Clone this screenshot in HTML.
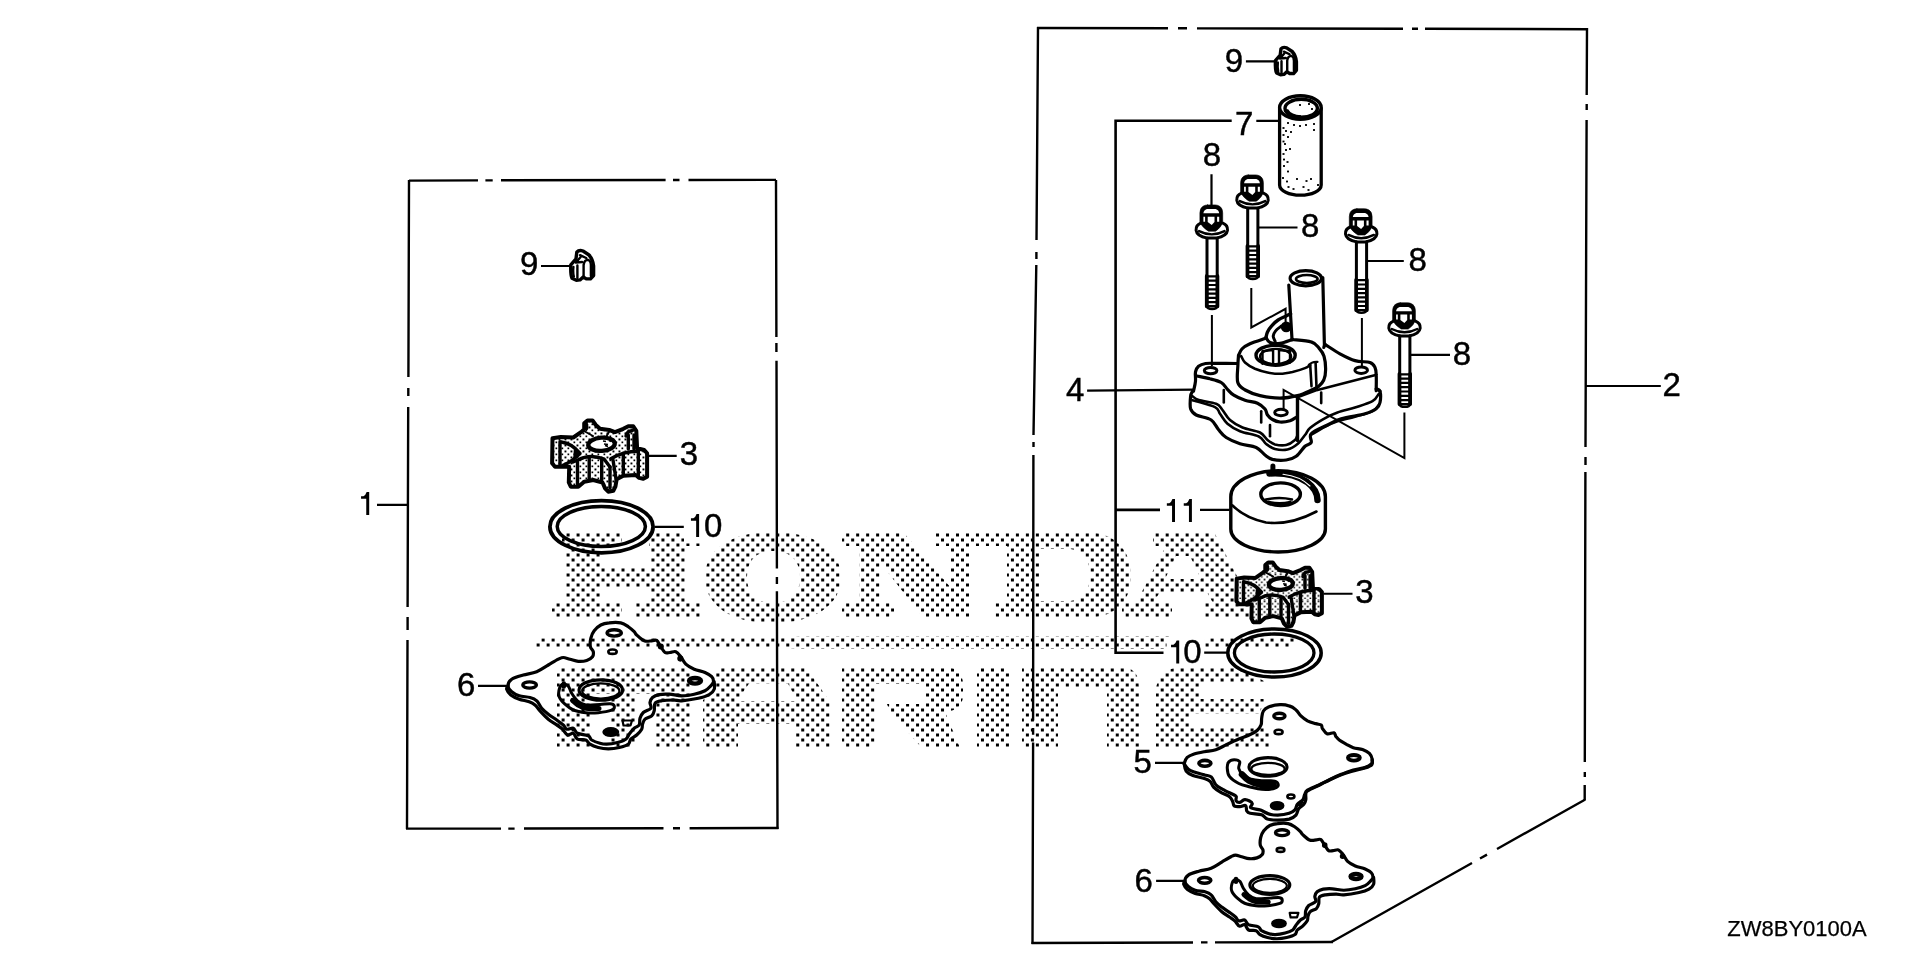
<!DOCTYPE html>
<html><head><meta charset="utf-8"><title>Water Pump Parts Diagram</title>
<style>
html,body{margin:0;padding:0;background:#fff;}
body{width:1920px;height:960px;overflow:hidden;font-family:"Liberation Sans",sans-serif;}
svg{display:block;filter:grayscale(1);}
svg text{font-family:"Liberation Sans",sans-serif;fill:#000;stroke:#000;stroke-width:0.45px;}
.l{stroke:#000;stroke-width:2.4;fill:none;stroke-linecap:butt;}
.t{stroke:#000;stroke-width:2;fill:none;}
.p{stroke:#000;stroke-width:2.6;fill:none;stroke-linejoin:round;stroke-linecap:round;}
.pw{stroke:#000;stroke-width:2.6;fill:#fff;stroke-linejoin:round;stroke-linecap:round;}
.n{font-size:30px;}
</style></head><body>
<svg width="1920" height="960" viewBox="0 0 1920 960">
<rect width="1920" height="960" fill="#fff"/>
<!-- 00_watermark.svg -->
<defs>
<pattern id="dots" width="9.985" height="10" patternUnits="userSpaceOnUse" patternTransform="translate(561.6,668.5)">
<rect x="0" y="0" width="3" height="3" fill="#000"/>
<rect x="4.99" y="5" width="3" height="3" fill="#000"/>
</pattern>
</defs>
<g fill="url(#dots)" stroke="none" fill-rule="evenodd">
<!-- H -->
<path d="M562 532H622V546H601V568H651V546H649V532H700V546H686V603H700V618H636V603H651V588H601V603H622V618H552V603H566V546H562Z"/>
<!-- O -->
<path d="M772 532C815 532 841 550 841 577C841 605 815 623 772 623C730 623 705 605 705 577C705 550 730 532 772 532ZM773 551C756 551 747 561 747 577C747 594 756 603 773 603C791 603 800 594 800 577C800 561 791 551 773 551Z"/>
<!-- N -->
<path d="M842 532H903L951 588V546H936V532H985V546H970V618H923L880 562V603H894V618H842V603H859V546H842Z"/>
<!-- D -->
<path d="M985 532H1085C1115 532 1131 550 1131 576C1131 602 1115 618 1085 618H994V603H1007V546H985ZM1040 549V601H1068C1082 601 1090 592 1090 575C1090 558 1082 549 1068 549Z"/>
<!-- A -->
<path d="M1153 532H1214L1251 603H1263V618H1205V603H1213L1207 592H1160L1153 603H1172V618H1122V603H1136L1166 546H1153ZM1176 556L1165 579H1201L1190 556Z"/>
<!-- swoosh -->
<path d="M536 638.3L780 638.3L800 636.5L1170 636.3L1180 638.3H1295V647.7H1180L1170 648.9L800 648.8L780 647.7L536 647.7Z"/>
<!-- M -->
<path d="M565 667H682Q691 667 691 676V748H655V694H636V748H611V694H591V748H557V675Q557 667 565 667Z"/>
<!-- A -->
<path d="M722 667H806L830 702V748H796V724H738V748H703V700L716 690V673Q716 667 722 667ZM749 683.4L737 701H797L788 683.4Z"/>
<!-- R -->
<path d="M842 667H945Q963 667 963 685V695Q963 710 945 712L960 748H922L890 712L887 704H925V684H875V748H842Z"/>
<!-- I -->
<path d="M977 667H1009V748H977Z"/>
<!-- N -->
<path d="M1022 667H1120Q1139 667 1139 687V748H1107V688H1058V748H1022Z"/>
<!-- E -->
<path d="M1185 667H1236L1268 683H1199V699H1266L1259 713.6H1190V728H1270V748H1156V692Q1156 667 1185 667Z"/>
</g>

<!-- 05_defs.svg -->
<defs>
<pattern id="stip" width="6" height="6" patternUnits="userSpaceOnUse">
<rect x="0.5" y="0.5" width="1.9" height="1.9" fill="#000"/>
<rect x="3.5" y="3.5" width="1.7" height="1.7" fill="#000"/>
</pattern>
<pattern id="stip2" width="9" height="9" patternUnits="userSpaceOnUse">
<rect x="1" y="1" width="1.3" height="1.3" fill="#000"/>
<rect x="5.5" y="4" width="1.3" height="1.3" fill="#000"/>
<rect x="2.5" y="7" width="1.2" height="1.2" fill="#000"/>
</pattern>
<!-- clip (9) : drawn at left-box position -->
<g id="clip">
<path vector-effect="non-scaling-stroke" d="M570.8 264.8L576 258.8L576.8 252.2Q579 249.6 583 251L589 255Q593 259.5 593.6 266V275.5L590.5 278.9H586.3L583.2 277L580 279.9L576.3 280.2L572 278.2Q570.4 275 570.8 264.8Z" fill="#fff" stroke="#000" stroke-width="3.4" stroke-linejoin="round"/>
<path vector-effect="non-scaling-stroke" d="M580 255.2L586.2 258M580.2 257.5L575.8 262.6L582 262M583.6 276V265Q584.2 260 588 259.8Q590.8 260.5 590.9 265V276M577.4 265.5V278M573.4 267Q572.8 272 573.8 276.5" fill="none" stroke="#000" stroke-width="2.4" stroke-linejoin="round" stroke-linecap="round"/>
</g>
<!-- impeller (3) : drawn at left-box position -->
<g id="imp">
<path vector-effect="non-scaling-stroke" id="impo" d="M552.5 438.3L560.8 437.1L573.3 437.5L581.7 431.7L584.2 429.2V423.3L587.5 420.4H592.5L595.8 425L600 428.8L609.2 430L615 432.1L623.3 428.8L628.3 426.3H633.3L636.3 430.8L637.1 448.3L644.2 450L647.1 453.3V476.7L643.3 478.8L639.2 477.9L635.8 475L623.3 475.8L616.7 479.2L615.4 486.7L613.3 490.8L608.3 491.7L605 488.3L602.5 482.5L593.3 480L584.2 481.7L578.3 486.7H570.8L568.8 482.5L569.2 466.7H555L552.1 463.3Z" fill="#fff" stroke="#000" stroke-width="4" stroke-linejoin="round"/>
<path vector-effect="non-scaling-stroke" d="M552.5 438.3L560.8 437.1L573.3 437.5L581.7 431.7L584.2 429.2V423.3L587.5 420.4H592.5L595.8 425L600 428.8L609.2 430L615 432.1L623.3 428.8L628.3 426.3H633.3L636.3 430.8L637.1 448.3L644.2 450L647.1 453.3V476.7L643.3 478.8L639.2 477.9L635.8 475L623.3 475.8L616.7 479.2L615.4 486.7L613.3 490.8L608.3 491.7L605 488.3L602.5 482.5L593.3 480L584.2 481.7L578.3 486.7H570.8L568.8 482.5L569.2 466.7H555L552.1 463.3Z" fill="url(#stip)" stroke="none"/>
<ellipse vector-effect="non-scaling-stroke" cx="601.5" cy="444.3" rx="13.3" ry="6.6" fill="#fff" stroke="#000" stroke-width="4.3" transform="rotate(-4 601.5 444.3)"/>
<path vector-effect="non-scaling-stroke" d="M603 441l3 .5m-2 2.5l4 .5m1-4l2 1m-6 4l3 1" stroke="#000" stroke-width="1.6" fill="none"/>
<g fill="none" stroke="#000" stroke-width="3.4" stroke-linecap="round" stroke-linejoin="round">
<path vector-effect="non-scaling-stroke" d="M560 441.7V465"/>
<path vector-effect="non-scaling-stroke" d="M561.3 442Q571.7 443.3 580 453.3Q573.3 460.8 562.5 465.5"/>
<path vector-effect="non-scaling-stroke" d="M574.5 450L578 453.5L574 457.5Z" fill="#000" stroke-width="1.5"/>
<path vector-effect="non-scaling-stroke" d="M573 462L578 460Q590 453.5 604.2 459.2L610 467"/>
<path vector-effect="non-scaling-stroke" d="M577.5 462V484M589.2 457.5V479.5M601.7 460V480M610 467V488"/>
<path vector-effect="non-scaling-stroke" d="M610.8 458.8Q623.3 451.3 638.3 451.3"/>
<path vector-effect="non-scaling-stroke" d="M623.3 453.3V475.5M638.3 451.7V477M613 460L616 479"/>
<path vector-effect="non-scaling-stroke" d="M626 436Q627 431 632.5 430.5"/>
<path vector-effect="non-scaling-stroke" d="M628.3 435V449M634 435V449"/>
<path vector-effect="non-scaling-stroke" d="M586.6 424.5V428.5"/>
<path vector-effect="non-scaling-stroke" d="M584 431L593 436M609.5 431L606 437" stroke-width="2"/>
</g>
</g>
</defs>

<!-- 06_gasket.svg -->
<defs><g id="gask" fill="none" stroke="#000" stroke-linejoin="round" stroke-linecap="round">
<path vector-effect="non-scaling-stroke" d="M714.2 681.7C714.2 683.0 715.0 687.1 714.2 689.2C713.4 691.4 711.9 693.1 709.2 694.6C706.6 696.1 702.9 697.3 698.3 698.3C693.7 699.3 685.9 700.5 681.7 700.8C677.5 701.1 676.6 700.0 673.3 700.0C670.0 700.0 664.8 700.2 661.7 700.8C658.7 701.3 656.2 701.6 655.0 703.3C653.8 705.0 654.8 708.7 654.2 710.8C653.7 712.9 653.2 714.4 651.7 715.8C650.2 717.2 646.5 717.8 645.0 719.2C643.5 720.6 643.0 722.5 642.5 724.2C642.0 725.9 642.7 727.4 641.7 729.2C640.7 731.0 638.5 733.3 636.7 735.0C634.9 736.7 632.2 737.7 630.8 739.2C629.4 740.7 630.2 742.8 628.3 744.2C626.4 745.6 622.5 746.7 619.2 747.5C615.9 748.3 611.8 748.8 608.3 748.8C604.8 748.8 601.3 748.3 598.3 747.5C595.2 746.7 592.1 745.5 590.0 744.2C587.9 743.0 587.9 740.8 585.8 740.0C583.7 739.2 579.6 740.3 577.5 739.2C575.4 738.1 575.0 734.0 573.3 733.3C571.6 732.6 569.3 735.7 567.5 735.0C565.7 734.3 564.3 730.9 562.5 729.2C560.7 727.5 559.1 726.7 556.7 725.0C554.3 723.3 551.1 721.6 548.3 719.2C545.5 716.8 542.2 713.2 540.0 710.8C537.8 708.4 536.8 706.5 535.0 705.0C533.2 703.5 531.8 702.7 529.2 701.7C526.6 700.7 522.3 700.3 519.2 699.2C516.1 698.1 512.9 696.7 510.8 695.0C508.7 693.3 507.2 690.7 506.7 689.2C506.2 687.7 507.8 686.5 508.0 686.0" stroke-width="3.2"/>
<path vector-effect="non-scaling-stroke" d="M508.0 686.0C508.0 683.9 509.1 681.0 511.7 679.2C514.2 677.4 519.1 676.2 523.3 675.0C527.5 673.8 532.5 673.4 536.7 671.7C540.9 670.0 544.7 667.1 548.3 665.0C551.9 662.9 555.8 660.5 558.3 659.2C560.8 658.0 561.3 657.5 563.3 657.5C565.2 657.5 567.5 658.6 570.0 659.2C572.5 659.8 575.5 661.1 578.3 661.3C581.1 661.5 584.3 661.2 586.7 660.4C589.1 659.6 591.4 658.2 592.5 656.7C593.6 655.2 593.6 653.4 593.3 651.7C592.9 650.0 590.8 648.9 590.4 646.7C590.0 644.5 590.2 640.9 590.8 638.3C591.4 635.6 592.5 633.0 594.2 630.8C595.9 628.6 598.3 626.3 600.8 625.0C603.3 623.7 605.9 623.2 609.2 622.9C612.5 622.5 617.6 622.3 620.8 622.9C624.0 623.5 626.1 625.2 628.3 626.7C630.5 628.2 632.8 630.3 634.2 631.7C635.6 633.1 635.0 633.5 636.7 635.0C638.4 636.5 641.7 639.8 644.2 640.8C646.7 641.8 649.6 640.9 651.7 640.8C653.8 640.7 655.2 639.4 656.7 640.4C658.2 641.4 659.4 644.7 660.8 646.7C662.2 648.7 663.5 651.5 665.0 652.5C666.5 653.5 668.2 652.6 670.0 652.5C671.8 652.4 674.0 651.0 675.8 651.7C677.6 652.4 679.1 654.6 680.8 656.7C682.5 658.8 683.6 662.1 685.8 664.2C688.0 666.3 691.0 667.8 694.2 669.2C697.4 670.6 702.1 671.2 705.0 672.5C707.9 673.8 710.3 675.2 711.7 676.7C713.1 678.2 713.6 680.2 713.5 681.7C713.4 683.2 712.2 684.3 710.8 685.8C709.4 687.3 707.8 689.4 705.0 690.8C702.2 692.2 698.1 693.4 694.2 694.2C690.3 695.0 685.9 695.8 681.7 695.8C677.5 695.8 673.0 694.4 669.2 694.2C665.5 694.0 662.0 694.1 659.2 694.6C656.4 695.1 654.0 696.2 652.5 697.5C651.0 698.8 650.3 700.7 650.0 702.5C649.7 704.3 651.9 706.6 650.8 708.3C649.7 710.0 645.1 710.8 643.3 712.5C641.5 714.2 640.7 716.2 640.0 718.3C639.3 720.4 640.2 723.3 639.2 725.0C638.2 726.7 635.9 726.8 634.2 728.3C632.5 729.8 630.6 732.4 629.2 734.2C627.8 736.0 627.8 737.8 625.8 739.2C623.8 740.6 620.7 741.7 617.5 742.5C614.3 743.3 609.6 744.1 606.7 744.2C603.8 744.3 602.5 744.0 600.0 743.3C597.5 742.6 593.7 741.2 591.7 740.0C589.8 738.8 590.7 736.9 588.3 735.8C585.9 734.7 580.0 734.5 577.5 733.3C575.0 732.0 575.1 729.0 573.3 728.3C571.5 727.6 568.4 729.8 566.7 729.2C565.0 728.7 565.0 726.5 563.3 725.0C561.6 723.5 559.2 721.8 556.7 720.0C554.2 718.2 550.8 716.2 548.3 714.2C545.8 712.2 543.6 710.5 541.7 708.3C539.8 706.1 538.7 702.6 536.7 700.8C534.8 699.0 532.9 698.3 530.0 697.5C527.1 696.7 522.2 696.8 519.2 695.8C516.2 694.8 513.6 693.3 511.7 691.7C509.8 690.1 508.0 688.1 508.0 686.0Z" stroke-width="3.2"/>
<ellipse vector-effect="non-scaling-stroke" cx="614.2" cy="632.9" rx="7.2" ry="3.2" stroke-width="3.4"/>
<ellipse vector-effect="non-scaling-stroke" cx="612.5" cy="651.7" rx="4.2" ry="2.2" stroke-width="2.6"/>
<ellipse vector-effect="non-scaling-stroke" cx="529.6" cy="685" rx="6.8" ry="3.1" stroke-width="3.4"/>
<ellipse vector-effect="non-scaling-stroke" cx="695" cy="680.8" rx="6" ry="2.8" stroke-width="4.4"/>
<ellipse vector-effect="non-scaling-stroke" cx="610.8" cy="732.1" rx="6.5" ry="3" stroke-width="4" fill="#000"/>
<path vector-effect="non-scaling-stroke" d="M622.5 720.5h9.5l-1.5 5h-7z" stroke-width="2.2"/>
<ellipse vector-effect="non-scaling-stroke" cx="600.8" cy="690" rx="21.8" ry="10.2" stroke-width="3.2"/>
<ellipse vector-effect="non-scaling-stroke" cx="600.8" cy="691" rx="18.6" ry="7.6" stroke-width="2.2"/>
<path vector-effect="non-scaling-stroke" d="M563.5 684.0C562.0 684.3 560.3 685.9 559.6 688.0C558.9 690.1 558.3 694.0 559.2 696.7C560.1 699.4 562.6 702.0 565.0 704.2C567.4 706.4 569.8 708.6 573.3 710.0C576.8 711.4 581.6 712.2 585.8 712.7C590.0 713.2 594.0 713.1 598.3 712.7C602.6 712.3 609.0 711.2 611.7 710.2C614.4 709.2 614.4 708.0 614.4 706.9C614.4 705.8 614.1 704.3 611.7 703.9C609.3 703.5 604.3 704.2 600.0 704.4C595.7 704.6 589.5 705.6 585.8 705.0C582.0 704.4 579.9 702.8 577.5 700.8C575.1 698.8 573.2 695.7 571.7 693.3C570.2 690.9 569.7 687.8 568.3 686.2C566.9 684.7 565.0 683.7 563.5 684.0Z" stroke-width="3"/>
<path vector-effect="non-scaling-stroke" d="M572.5 700.5C573.4 701.2 575.8 703.7 578.0 705.0C580.2 706.3 582.5 707.7 586.0 708.3C589.5 708.9 596.8 708.5 599.0 708.5" stroke-width="5"/>
<path vector-effect="non-scaling-stroke" d="M563.8 683.5v3" stroke-width="4.5"/>
<circle cx="660.8" cy="646.5" r="2.3" fill="#000" stroke-width="1.5"/><circle cx="680.3" cy="658.6" r="2.3" fill="#000" stroke-width="1.5"/><!--blob-->
</g></defs>

<!-- 07_bolt.svg -->
<defs>
<g id="bolt" stroke-linejoin="round" stroke-linecap="round">
<!-- origin: center x, outer top y -->
<path d="M-3.8 0H3.8Q6 0 8.4 1.4Q11.4 3.4 11.4 8V17.5Q9.5 23 4.2 26.3H-2.8Q-8.5 23 -11.4 17.5V8Q-11.4 3.4 -8.4 1.4Q-6 0 -3.8 0Z" fill="#000" stroke="#000" stroke-width="0.6"/>
<path d="M-7.9 8.4Q-7.5 5.2 -4.4 4.2H4.4Q7.5 5.2 7.9 8.4Z" fill="#fff"/>
<path d="M-7.9 11.8H-6.2V16.8H-7.9ZM-3.6 11.8H3.2V17.2L0.4 20.2L-3.6 17.2ZM5.8 11.8H7.9V16.8H5.8Z" fill="#fff"/>
<path d="M-10.5 18.3Q-15.6 20.3 -15.2 25.3Q-14.5 31.2 -4 33.2H5Q15.5 31.2 16.2 25.3Q16.6 20.3 11.5 18.3" fill="none" stroke="#000" stroke-width="3"/>
<path d="M-12.2 26.2Q0.5 32.8 13.2 26.2" fill="none" stroke="#000" stroke-width="2.4"/>
<path d="M-4.3 33V101.5M5.9 33V101.5" fill="none" stroke="#000" stroke-width="3"/>
<path d="M-4.3 101.5Q-4 104 0.8 104Q5.6 104 5.9 101.5" fill="none" stroke="#000" stroke-width="2.6"/>
<path d="M-4.6 71V101.5M6.2 71V101.5" fill="none" stroke="#000" stroke-width="3.6"/>
<path d="M-4 71.5H5.6M-4 75.8H5.6M-4 80.1H5.6M-4 84.4H5.6M-4 88.7H5.6M-4 93H5.6M-4 97.3H5.6M-3.2 101.3H4.8" fill="none" stroke="#000" stroke-width="2.2"/>
</g>
</defs>

<!-- 10_boxes.svg -->
<g class="l">
<!-- left box -->
<path d="M409 180.6L478 180.4M485.4 180.4H492.7M501 180.3L665.6 180M673 180H679.5M688.5 180L776 179.9"/>
<path d="M409 180L408.4 377M408.3 388V396M408.2 407L407.6 607M407.6 617V630M407.5 640L407 829"/>
<path d="M776 180L776.4 337M776.4 343V352M776.5 360.8L776.9 568.5M776.9 577V584M776.9 591.3L777.5 829"/>
<path d="M406 828.6H501M508.3 828.6H514.6M524 828.5L663.5 828.3M673 828.3H680M689.6 828.2L778.5 828"/>
<!-- right box -->
<path d="M1037 28L1168 28.3M1178 28.3H1187M1197 28.4L1403 28.8M1412 28.8H1418M1425 28.8L1588 29.2"/>
<path d="M1038 27L1036.5 240M1036.4 252V259M1036.3 265L1033.5 435M1033.5 442V447M1033.4 455L1033.1 720.6M1033.1 728V734.7M1033.1 742.5L1032.5 944"/>
<path d="M1587 28L1586.7 95M1586.7 104V110M1586.6 120L1585.5 447M1585.5 457V465M1585.4 472L1584.8 762M1584.8 772V777M1584.7 785V800"/>
<path d="M1585.3 799.5L1497 849M1487 854.6L1480 858.5M1472 863L1331.5 942"/>
<path d="M1333 942L1215 942.4M1207.5 942.4H1201M1193 942.5L1031.5 943"/>
</g>

<!-- 20_labels.svg -->
<rect x="684" y="511" width="43" height="31" fill="#fff"/>
<rect x="1166.5" y="637" width="37.5" height="30" fill="#fff"/>
<path d="M377 504.9H408M541 266H571.5M647.5 455.8H676.7M655 526.9H683.8M478 685.9H507.5M1245.9 61.4H1276.5M1256.3 120.8H1278.5M1211.5 174.2V206M1259 227.5H1297.5M1366.5 261H1403.8M1410.5 354.8H1450M1087.1 390.7L1195 389.7M1200 509.9H1229.5M1323.5 593.75H1352.5M1204.2 652.7H1227M1155 762.9H1184.5M1156.1 880.9H1185M1586 386H1660.8" fill="none" stroke="#000" stroke-width="2.2"/>
<path d="M1231.7 120.8H1115.6V652.7H1163.5M1115.6 509.9H1160" fill="none" stroke="#000" stroke-width="2.6" stroke-linejoin="miter"/>
<g font-size="33" text-anchor="middle" opacity="0.999"><text x="529.10" y="275.30">9</text><text x="688.95" y="465.10">3</text><text x="466.25" y="695.60">6</text><text x="1233.95" y="71.60">9</text><text x="1244.10" y="135.00">7</text><text x="1211.90" y="166.40">8</text><text x="1310.20" y="237.20">8</text><text x="1417.70" y="270.50">8</text><text x="1461.90" y="365.40">8</text><text x="1075.20" y="400.80">4</text><text x="1364.40" y="603.40">3</text><text x="1142.60" y="772.50">5</text><text x="1143.60" y="891.60">6</text><text x="1671.60" y="395.80">2</text><text x="713.10" y="536.60">0</text><text x="1192.45" y="663.30">0</text></g>
<g fill="#000"><path d="M369.20 514.90h-2.95v-16.2h-5.2v-2.5h2.4q2.3 -1.2 3.2 -4.2h2.55z"/><path d="M699.10 536.90h-2.95v-16.2h-5.2v-2.5h2.4q2.3 -1.2 3.2 -4.2h2.55z"/><path d="M1179.20 663.40h-2.95v-16.2h-5.2v-2.5h2.4q2.3 -1.2 3.2 -4.2h2.55z"/><path d="M1175.00 521.90h-2.95v-16.2h-5.2v-2.5h2.4q2.3 -1.2 3.2 -4.2h2.55z"/><path d="M1191.90 521.90h-2.95v-16.2h-5.2v-2.5h2.4q2.3 -1.2 3.2 -4.2h2.55z"/></g>
<g opacity="0.999"><text x="1727.3" y="936" font-size="22" style="stroke-width:0.25px">ZW8BY0100A</text></g>

<!-- 30_leftparts.svg -->
<use href="#clip"/>
<use href="#imp"/>
<ellipse cx="601.5" cy="526.7" rx="51.6" ry="26.1" fill="none" stroke="#000" stroke-width="3.8"/>
<ellipse cx="601.3" cy="526.5" rx="44.1" ry="20.1" fill="none" stroke="#000" stroke-width="3.5"/>
<use href="#gask"/>

<!-- 40_housing.svg -->
<g fill="none" stroke="#000" stroke-linejoin="round" stroke-linecap="round">
<path d="M1192.5 391.2C1192.2 392.1 1190.9 393.3 1190.6 396.2C1190.3 399.2 1189.7 405.6 1190.6 408.8C1191.6 411.9 1192.8 413.1 1196.2 415.0C1199.7 416.9 1207.5 417.5 1211.2 420.0C1215.0 422.5 1216.2 427.1 1218.8 430.0C1221.2 432.9 1222.7 435.2 1226.2 437.5C1229.8 439.8 1235.0 442.1 1240.0 443.8C1245.0 445.4 1252.1 445.6 1256.2 447.5C1260.4 449.4 1262.3 453.0 1265.0 455.0C1267.7 457.0 1269.0 458.5 1272.5 459.4C1276.0 460.2 1282.3 460.5 1286.2 460.0C1290.2 459.5 1293.1 458.5 1296.2 456.2C1299.4 454.0 1302.5 448.5 1305.0 446.2C1307.5 444.0 1310.2 444.6 1311.2 442.5C1312.3 440.4 1308.5 436.7 1311.2 433.8C1314.0 430.8 1322.5 427.5 1327.5 425.0C1332.5 422.5 1335.0 420.6 1341.2 418.8C1347.5 416.9 1359.2 415.4 1365.0 413.8C1370.8 412.1 1373.8 410.6 1376.2 408.8C1378.8 406.9 1379.4 405.4 1380.0 402.5C1380.6 399.6 1380.6 393.5 1380.0 391.2C1379.4 389.0 1376.9 389.2 1376.2 388.8" stroke-width="3.2"/>
<path d="M1192.5 396.2C1193.5 396.9 1194.8 398.8 1198.8 400.0C1202.7 401.2 1212.3 402.1 1216.2 403.8C1220.2 405.4 1220.2 407.3 1222.5 410.0C1224.8 412.7 1226.7 417.1 1230.0 420.0C1233.3 422.9 1237.5 425.4 1242.5 427.5C1247.5 429.6 1255.8 430.4 1260.0 432.5C1264.2 434.6 1265.0 438.0 1267.5 440.0C1270.0 442.0 1271.9 443.5 1275.0 444.4C1278.1 445.2 1282.9 445.7 1286.2 445.0C1289.6 444.3 1293.1 441.7 1295.0 440.0C1296.9 438.3 1297.1 435.8 1297.5 435.0" stroke-width="2.6"/>
<path d="M1192.5 400.2C1196.2 401.4 1210.4 404.9 1215.0 407.1C1219.6 409.4 1217.9 411.0 1220.0 413.8C1222.1 416.5 1224.2 420.8 1227.5 423.8C1230.8 426.7 1234.8 429.1 1240.0 431.2C1245.2 433.4 1254.4 434.4 1258.8 436.5C1263.1 438.6 1263.5 441.9 1266.2 444.0C1269.0 446.1 1271.5 448.1 1275.0 449.0C1278.5 449.9 1283.8 450.3 1287.5 449.5C1291.2 448.7 1294.6 446.4 1297.5 444.0C1300.4 441.6 1302.9 437.6 1305.0 435.0C1307.1 432.4 1306.9 430.8 1310.0 428.1C1313.1 425.4 1319.2 421.4 1323.8 418.8C1328.3 416.1 1332.3 414.4 1337.5 412.5C1342.7 410.6 1349.2 409.4 1355.0 407.5C1360.8 405.6 1368.5 403.5 1372.5 401.2C1376.5 399.0 1377.7 395.0 1378.8 393.8" stroke-width="2.6"/>
<path d="M1311.2 435.0C1313.5 433.6 1320.6 429.1 1325.0 426.9C1329.4 424.6 1332.5 423.2 1337.5 421.5C1342.5 419.8 1349.2 418.6 1355.0 416.9C1360.8 415.2 1368.4 413.4 1372.5 411.2C1376.6 409.1 1378.2 405.0 1379.4 403.8" stroke-width="2.2"/>
<path d="M1196.9 376.0C1199.1 376.5 1205.9 377.7 1210.0 378.8C1214.1 379.8 1218.3 380.7 1221.2 382.5C1224.2 384.3 1225.4 387.2 1227.5 389.4C1229.6 391.5 1230.8 393.4 1233.8 395.2C1236.7 397.1 1241.0 398.9 1245.0 400.2C1249.0 401.6 1254.2 401.8 1257.5 403.2C1260.8 404.7 1263.3 407.0 1265.0 409.0C1266.7 411.0 1266.2 413.2 1267.5 415.0C1268.8 416.8 1270.4 418.3 1272.5 419.5C1274.6 420.7 1277.1 421.8 1280.0 422.0C1282.9 422.2 1287.2 421.6 1290.0 420.8C1292.8 419.9 1295.7 417.5 1296.9 416.9" stroke-width="3.2"/>
<path d="M1193.5 391.2C1193.8 389.6 1195.2 384.5 1195.5 381.2C1195.8 378.0 1195.0 374.4 1195.5 371.9C1196.0 369.4 1196.8 367.6 1198.5 366.2C1200.2 364.9 1202.5 364.0 1205.6 363.5C1208.8 363.0 1212.2 363.4 1217.5 363.4C1222.8 363.4 1234.0 363.5 1237.2 363.5" stroke-width="3.2"/>
<path d="M1297.5 396.5L1297.5 440.6" stroke-width="3.4"/>
<path d="M1223.8 390.0L1223.8 402.5" stroke-width="2.6"/>
<path d="M1261.2 411.2L1261.2 422.5" stroke-width="2.6"/>
<path d="M1270.0 425.0L1270.0 436.2" stroke-width="2.6"/>
<path d="M1321.2 392.5L1321.2 403.1" stroke-width="2.6"/>
<ellipse cx="1281.0" cy="412.5" rx="6.3" ry="3.2" stroke-width="3" fill="none"/>
<ellipse cx="1210.6" cy="370.6" rx="6.3" ry="3.2" stroke-width="3" fill="none"/>
<ellipse cx="1361.2" cy="370.2" rx="6.3" ry="3.2" stroke-width="3" fill="none"/>
<path d="M1238.5 355.6C1238.4 357.2 1238.0 360.5 1237.9 365.0C1237.8 369.5 1236.5 378.3 1237.8 382.5C1239.0 386.7 1241.5 387.8 1245.2 390.0C1249.0 392.2 1254.2 394.3 1260.0 395.6C1265.8 397.0 1273.8 398.1 1280.0 398.1C1286.2 398.1 1292.3 396.9 1297.5 395.6C1302.7 394.3 1307.7 391.8 1311.2 390.2C1314.8 388.7 1316.7 388.0 1318.8 386.2C1320.8 384.5 1322.6 382.7 1323.8 380.0C1324.9 377.3 1325.6 374.0 1325.6 370.0C1325.7 366.0 1325.1 359.9 1324.0 356.2C1322.9 352.6 1321.1 350.5 1319.0 348.1C1316.9 345.7 1315.7 343.3 1311.2 341.9C1306.8 340.4 1295.6 339.9 1292.5 339.5" stroke-width="3.2"/>
<path d="M1238.5 355.6C1239.1 354.5 1240.0 351.0 1241.9 349.0C1243.8 347.0 1245.9 345.6 1250.0 343.8C1254.1 341.9 1263.5 339.1 1266.2 338.1" stroke-width="3.2"/>
<path d="M1241.2 356.2C1241.9 357.3 1242.7 360.4 1245.0 362.5C1247.3 364.6 1251.2 367.1 1255.0 368.8C1258.8 370.4 1263.3 371.7 1267.5 372.5C1271.7 373.3 1275.8 373.9 1280.0 373.8C1284.2 373.6 1288.3 372.8 1292.5 371.9C1296.7 370.9 1302.0 369.3 1305.0 368.1C1308.0 367.0 1309.4 365.5 1310.2 365.0" stroke-width="2.6"/>
<path d="M1310.2 365.0L1311.5 386.2" stroke-width="2.6"/>
<path d="M1315.6 363.1L1316.5 387.5" stroke-width="2.6"/>
<path d="M1308.8 365.0C1309.4 364.6 1311.0 363.0 1312.5 362.5C1314.0 362.0 1316.7 362.0 1317.5 361.9" stroke-width="2.2"/>
<ellipse cx="1275.6" cy="355.2" rx="19.6" ry="10.0" stroke-width="3.4" fill="none"/>
<ellipse cx="1275.6" cy="356.5" rx="15.5" ry="7.6" stroke-width="2.4" fill="none"/>
<path d="M1262.5 363.8L1262.5 351.2L1273.1 350.0L1273.1 364.4" stroke-width="2.4"/>
<path d="M1279.0 364.4L1279.0 350.0L1290.0 351.2L1290.0 362.5" stroke-width="2.4"/>
<path d="M1266.0 337.5C1266.2 336.6 1266.5 333.9 1267.5 331.9C1268.5 329.9 1270.1 327.6 1271.9 325.6C1273.6 323.6 1275.7 321.6 1278.1 320.0C1280.5 318.4 1284.2 317.0 1286.2 316.0C1288.3 315.0 1289.9 314.1 1290.6 313.8" stroke-width="3.4"/>
<path d="M1275.2 341.5C1274.9 340.6 1273.2 338.1 1273.2 336.2C1273.3 334.4 1274.4 332.3 1275.8 330.6C1277.1 328.9 1280.5 326.8 1281.5 326.0" stroke-width="3"/>
<path d="M1266.0 337.5C1266.7 338.3 1267.7 341.5 1270.0 342.5C1272.3 343.5 1276.2 343.9 1280.0 343.4C1283.8 342.9 1290.4 340.1 1292.5 339.5" stroke-width="3.2"/>
<ellipse cx="1286.2" cy="326.9" rx="3.9" ry="3.9" stroke-width="3" fill="#000"/>
<path d="M1288.8 285.0L1291.9 337.5L1291.9 340.0" stroke-width="3.2"/>
<path d="M1322.8 277.5L1324.4 345.0L1323.8 347.5L1325.0 344.4" stroke-width="3.2"/>
<ellipse cx="1305.8" cy="278.2" rx="15.7" ry="7.6" stroke-width="3.2" fill="none"/>
<ellipse cx="1306.8" cy="279.0" rx="10.8" ry="4.0" stroke-width="2.6" fill="none"/>
<path d="M1325.0 344.4C1327.5 345.9 1335.0 351.0 1340.0 353.8C1345.0 356.5 1350.0 359.2 1355.0 360.6C1360.0 362.1 1366.7 361.4 1370.0 362.5C1373.3 363.6 1374.0 365.4 1375.0 367.5C1376.0 369.6 1376.0 371.2 1376.2 375.0C1376.5 378.8 1376.2 387.7 1376.2 390.0C1376.3 392.3 1375.9 388.5 1376.5 388.8C1377.1 389.0 1379.4 390.8 1380.0 391.2" stroke-width="3.2"/>
<path d="M1375.6 375.0L1317.5 390.0" stroke-width="2.4"/>
<path d="M1317.5 390.0L1297.5 397.5" stroke-width="2.2"/>
</g>
<path class="t" d="M1404.4 412.5V458L1283.6 390V410M1211.9 315V366M1251.3 288V327.5L1285.6 308.8V322M1361.9 318V366"/>

<!-- 41_bolts.svg -->
<use href="#bolt" x="1211.3" y="204.9"/>
<use href="#bolt" x="1252" y="174.9"/>
<use href="#bolt" x="1360.7" y="208.7"/>
<use href="#bolt" x="1404" y="302.8"/>

<!-- 42_rightparts.svg -->
<use href="#clip" transform="translate(750.3 -183.1) scale(0.92)"/>
<!-- tube 7 -->
<g fill="none" stroke="#000" stroke-linejoin="round">
<path d="M1279.6 107.5V185A20.8 10.2 0 0 0 1321.2 185V107.5" stroke-width="3.3"/>
<ellipse cx="1300.4" cy="107.5" rx="20.8" ry="11.7" stroke-width="3.4" fill="#fff"/>
<ellipse cx="1301.2" cy="108.3" rx="16.2" ry="9" stroke-width="3.4"/>
<path d="M1286 110Q1290 117 1301 117.5" stroke-width="4.5"/>
</g>
<g fill="#000"><rect x="1287.0" y="122.1" width="2" height="1.8"/><rect x="1293.0" y="124.1" width="2" height="1.8"/><rect x="1299.0" y="125.1" width="2" height="1.8"/><rect x="1305.0" y="124.1" width="2" height="1.8"/><rect x="1313.0" y="123.1" width="2" height="1.8"/><rect x="1285.0" y="130.1" width="2" height="1.8"/><rect x="1290.0" y="131.1" width="2" height="1.8"/><rect x="1313.0" y="129.1" width="2" height="1.8"/><rect x="1287.0" y="136.1" width="2" height="1.8"/><rect x="1284.0" y="143.1" width="2" height="1.8"/><rect x="1285.0" y="149.1" width="2" height="1.8"/><rect x="1289.0" y="148.1" width="2" height="1.8"/><rect x="1282.5" y="153.1" width="2" height="1.8"/><rect x="1283.0" y="158.6" width="2" height="1.8"/><rect x="1286.5" y="161.1" width="2" height="1.8"/><rect x="1283.0" y="165.1" width="2" height="1.8"/><rect x="1287.0" y="170.6" width="2" height="1.8"/><rect x="1282.0" y="177.1" width="2" height="1.8"/><rect x="1296.0" y="178.1" width="2" height="1.8"/><rect x="1305.5" y="180.1" width="2" height="1.8"/><rect x="1310.0" y="178.1" width="2" height="1.8"/><rect x="1286.0" y="180.6" width="2" height="1.8"/><rect x="1287.5" y="186.1" width="2" height="1.8"/><rect x="1292.5" y="188.1" width="2" height="1.8"/><rect x="1302.5" y="186.1" width="2" height="1.8"/><rect x="1307.5" y="189.1" width="2" height="1.8"/><rect x="1317.0" y="184.1" width="2" height="1.8"/><rect x="1282.5" y="127.1" width="2" height="1.8"/><rect x="1282.5" y="134.1" width="2" height="1.8"/><rect x="1282.5" y="140.6" width="2" height="1.8"/><rect x="1299.0" y="104.1" width="2" height="1.8"/><rect x="1308.0" y="103.1" width="2" height="1.8"/><rect x="1311.0" y="108.1" width="2" height="1.8"/></g>
<!-- cup 11 -->
<g fill="none" stroke="#000" stroke-linejoin="round" stroke-linecap="round">
<path d="M1230.8 496.7V529A47.3 23 0 0 0 1325.4 529V496.7A47.3 26 0 0 0 1230.8 496.7Z" stroke-width="3.4"/>
<path d="M1232.5 505.5Q1245 518 1266 522.5Q1290 525.5 1316.5 511.5" stroke-width="2.6"/>
<ellipse cx="1280.6" cy="494.2" rx="19.8" ry="11.3" stroke-width="3.4"/>
<path d="M1266 499.5Q1279.5 496.5 1292 499.5M1268.5 502Q1279.5 504.5 1290.5 502" stroke-width="2.4"/>
<path d="M1269.5 473.5Q1292 472 1307 482Q1317.5 490 1317.5 500" stroke-width="6.5"/>
<path d="M1272.9 466V473" stroke-width="5"/>
<path d="M1283 474.2Q1300 476 1310 486" stroke="#fff" stroke-width="1.1"/>
</g>
<use href="#imp" transform="translate(739.5 184.15) scale(0.9)"/>
<!-- oring 10 right -->
<ellipse cx="1274.5" cy="653" rx="46.7" ry="24" fill="none" stroke="#000" stroke-width="3.5"/>
<ellipse cx="1274.2" cy="653" rx="39.8" ry="19" fill="none" stroke="#000" stroke-width="3.3"/>
<use href="#gask" transform="translate(720.1 253.6) scale(0.915)"/>

<!-- 43_gasket5.svg -->
<g fill="none" stroke="#000" stroke-linejoin="round" stroke-linecap="round">
<path d="M1372.0 760.1C1372.0 760.8 1373.1 763.3 1371.9 764.6C1370.7 766.0 1367.9 767.0 1364.8 768.1C1361.7 769.1 1357.2 769.9 1353.3 770.9C1349.5 772.0 1345.7 772.9 1341.9 774.4C1338.1 775.8 1334.2 777.7 1330.4 779.5C1326.6 781.3 1322.8 783.4 1319.0 785.3C1315.1 787.2 1309.7 789.5 1307.5 791.0C1305.3 792.5 1306.1 792.7 1305.8 794.1C1305.5 795.5 1306.1 797.9 1305.8 799.6C1305.5 801.3 1305.0 802.6 1303.8 804.2C1302.6 805.7 1299.9 806.9 1298.6 808.8C1297.3 810.6 1297.6 813.3 1296.0 815.1C1294.5 816.8 1292.2 818.2 1289.2 819.1C1286.1 819.9 1281.3 820.2 1277.7 820.2C1274.1 820.2 1270.1 820.0 1267.4 819.1C1264.7 818.1 1264.5 815.7 1261.7 814.7C1258.8 813.8 1252.7 813.9 1250.2 813.3C1247.7 812.7 1247.5 812.3 1246.8 811.0C1246.0 809.7 1246.8 806.3 1245.6 805.5C1244.5 804.8 1241.8 806.6 1239.9 806.7C1238.0 806.7 1235.4 806.7 1234.2 805.9C1233.0 805.1 1233.6 803.4 1232.8 801.9C1232.0 800.3 1231.6 798.3 1229.6 796.7C1227.5 795.1 1223.1 793.8 1220.4 792.1C1217.7 790.5 1215.3 788.8 1213.5 787.0C1211.8 785.2 1211.6 782.7 1210.1 781.3C1208.6 779.8 1207.2 779.3 1204.4 778.4C1201.5 777.4 1196.0 776.8 1192.9 775.5C1189.9 774.3 1187.5 772.8 1186.0 770.9C1184.6 769.0 1184.6 765.2 1184.3 764.1" stroke-width="3.2"/>
<path d="M1184.3 763.2C1184.7 762.0 1185.6 759.0 1187.2 757.4C1188.8 755.9 1191.2 755.0 1194.1 754.0C1196.9 753.1 1200.7 752.4 1204.4 751.7C1208.0 751.0 1212.0 751.0 1215.8 749.8C1219.7 748.5 1223.5 746.0 1227.3 744.3C1231.1 742.5 1234.9 740.7 1238.8 739.1C1242.6 737.5 1247.2 736.0 1250.2 734.5C1253.3 733.1 1255.3 732.1 1257.1 730.5C1258.9 728.9 1260.3 726.9 1261.1 724.8C1261.9 722.7 1261.3 720.2 1261.7 717.9C1262.1 715.6 1262.2 712.9 1263.4 711.0C1264.5 709.2 1265.8 708.1 1268.5 707.0C1271.3 706.0 1276.6 704.9 1280.0 704.7C1283.4 704.5 1286.5 705.0 1289.2 705.9C1291.8 706.7 1294.1 708.3 1296.0 709.9C1298.0 711.5 1298.7 713.8 1300.6 715.6C1302.5 717.4 1305.0 719.4 1307.5 720.8C1310.0 722.1 1313.2 722.9 1315.5 723.6C1317.8 724.4 1320.1 724.2 1321.3 725.0C1322.4 725.8 1321.4 727.0 1322.4 728.5C1323.4 729.9 1325.1 733.0 1327.0 733.7C1328.9 734.5 1332.4 732.4 1333.9 732.8C1335.3 733.3 1335.0 735.2 1335.9 736.5C1336.9 737.7 1337.8 739.0 1339.6 740.3C1341.3 741.6 1344.2 743.0 1346.5 744.3C1348.8 745.5 1350.7 746.9 1353.3 747.7C1356.0 748.6 1359.8 748.5 1362.5 749.4C1365.2 750.4 1367.8 751.8 1369.4 753.4C1371.0 755.1 1371.9 757.4 1372.2 759.2C1372.6 760.9 1372.7 762.4 1371.4 763.8C1370.2 765.1 1367.8 766.4 1364.8 767.4C1361.8 768.5 1357.2 768.9 1353.3 770.1C1349.5 771.2 1345.7 772.5 1341.9 774.1C1338.1 775.6 1334.2 777.4 1330.4 779.2C1326.6 781.0 1322.8 783.1 1319.0 785.0C1315.1 786.8 1309.9 788.5 1307.5 790.1C1305.1 791.7 1305.4 793.1 1304.6 794.7C1303.9 796.2 1304.1 798.0 1302.9 799.6C1301.7 801.2 1298.8 802.4 1297.4 804.2C1296.1 805.9 1296.3 808.4 1294.9 809.9C1293.5 811.4 1292.0 812.5 1289.2 813.3C1286.3 814.2 1281.1 815.0 1277.7 815.1C1274.3 815.1 1271.4 814.7 1268.5 813.9C1265.7 813.1 1263.5 811.1 1260.5 810.1C1257.6 809.1 1252.2 808.9 1250.8 807.8C1249.4 806.8 1252.5 804.9 1252.3 803.7C1252.1 802.6 1250.9 801.6 1249.6 801.0C1248.3 800.3 1246.1 799.3 1244.5 799.6C1242.9 799.8 1241.3 802.3 1239.9 802.4C1238.5 802.6 1236.7 801.7 1236.1 800.7C1235.5 799.8 1236.6 797.7 1236.2 796.7C1235.9 795.8 1236.4 796.2 1234.2 795.0C1231.9 793.8 1225.8 791.0 1222.7 789.3C1219.7 787.6 1217.7 786.8 1215.8 784.7C1213.9 782.6 1213.2 778.5 1211.3 776.9C1209.3 775.3 1207.2 775.8 1204.4 774.9C1201.5 774.1 1196.7 773.0 1194.1 772.1C1191.4 771.1 1189.9 770.5 1188.3 769.2C1186.8 768.0 1185.3 765.6 1184.7 764.6C1184.0 763.6 1183.9 764.4 1184.3 763.2Z" stroke-width="3.2"/>
<ellipse cx="1279.4" cy="716.0" rx="5.6" ry="2.7" stroke-width="3.4" fill="none"/>
<ellipse cx="1278.6" cy="731.9" rx="4.0" ry="2.2" stroke-width="2.6" fill="none"/>
<ellipse cx="1204.9" cy="763.3" rx="6.0" ry="2.9" stroke-width="3.6" fill="none"/>
<ellipse cx="1353.9" cy="757.8" rx="6.0" ry="2.8" stroke-width="3.8" fill="none"/>
<ellipse cx="1290.9" cy="796.5" rx="3.5" ry="2.0" stroke-width="2.6" fill="none"/>
<ellipse cx="1277.1" cy="805.7" rx="5.6" ry="3.0" stroke-width="3.6" fill="#000"/>
<ellipse cx="1268.0" cy="766.9" rx="19.0" ry="9.3" stroke-width="3.2" fill="none"/>
<ellipse cx="1268.0" cy="768.9" rx="16.6" ry="6.0" stroke-width="2.2" fill="none"/>
<path d="M1234.2 759.7C1232.3 759.7 1229.8 760.5 1228.7 762.0C1227.5 763.5 1227.1 766.2 1227.3 768.6C1227.4 771.1 1227.7 774.2 1229.6 776.7C1231.5 779.2 1235.3 781.8 1238.8 783.5C1242.2 785.3 1246.4 786.0 1250.2 787.0C1254.0 787.9 1257.8 789.0 1261.7 789.3C1265.5 789.6 1270.4 789.3 1273.1 788.7C1275.9 788.1 1277.5 786.9 1278.1 785.8C1278.6 784.7 1277.8 782.9 1276.6 782.1C1275.4 781.2 1273.3 781.0 1270.8 780.8C1268.4 780.6 1265.1 781.0 1261.7 780.7C1258.2 780.4 1253.3 779.8 1250.2 779.0C1247.2 778.1 1245.2 777.2 1243.3 775.5C1241.4 773.8 1239.4 770.9 1238.8 768.6C1238.1 766.4 1240.4 763.3 1239.7 761.8C1238.9 760.3 1236.0 759.7 1234.2 759.7Z" stroke-width="3"/>
<path d="M1242.0 774.4C1243.1 775.4 1246.0 779.0 1249.1 780.7C1252.2 782.4 1256.4 784.0 1260.5 784.7C1264.6 785.4 1271.5 784.9 1273.7 784.9" stroke-width="6.5"/>
<path d="M1301.8 801.3C1301.3 802.2 1299.4 805.6 1298.9 806.5" stroke-width="4" stroke-linecap="butt"/>
</g>

</svg>
</body></html>
